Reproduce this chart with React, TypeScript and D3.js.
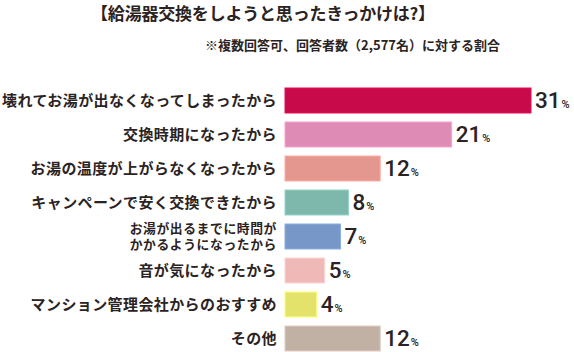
import React from "react";
import * as d3 from "d3";

const title = "【給湯器交換をしようと思ったきっかけは?】";
const subtitle = "※複数回答可、回答者数（2,577名）に対する割合";
const categories: string[][] = [
  ["壊れてお湯が出なくなってしまったから"],
  ["交換時期になったから"],
  ["お湯の温度が上がらなくなったから"],
  ["キャンペーンで安く交換できたから"],
  ["お湯が出るまでに時間が", "かかるようになったから"],
  ["音が気になったから"],
  ["マンション管理会社からのおすすめ"],
  ["その他"],
];
const values = [31, 21, 12, 8, 7, 5, 4, 12];
const colors = ["#C80A4B", "#DE8BB6", "#E4978F", "#7EB8AD", "#7797C8", "#EFB9B7", "#E3E36B", "#C1B1A5"];

const W = 574;
const H = 352;
const FONT = "'Noto Sans CJK JP', 'Noto Sans', sans-serif";
const TEXT = "#2b2323";

export default function App() {
  const x = d3.scaleLinear().domain([0, 31]).range([285, 531]);
  const keys = categories.map((_, i) => String(i));
  const y = d3.scaleBand<string>().domain(keys).range([88, 351]).paddingInner(0.265).paddingOuter(0);
  const bw = y.bandwidth();

  return (
    <svg width={W} height={H} style={{ position: "absolute", left: 0, top: 0 }} fontFamily={FONT}>
      <rect width={W} height={H} fill="#fff" />
      <text x={263} y={20} textAnchor="middle" fontSize={17} fontWeight={700} fill={TEXT} letterSpacing={-0.2}>
        {title}
      </text>
      <text x={500} y={50} textAnchor="end" fontSize={13} fontWeight={700} fill={TEXT}>
        {subtitle}
      </text>
      {keys.map((k, i) => {
        const y0 = y(k)!;
        const cy = y0 + bw / 2;
        const lines = categories[i];
        const c = d3.color(colors[i])!;
        const stroke = (c as any).brighter(0.4).formatHex();
        return (
          <g key={k}>
            <rect x={x(0)} y={y0} width={x(values[i]) - x(0)} height={bw} fill={colors[i]} stroke={stroke} strokeWidth={1} />
            {lines.length === 1 ? (
              <text x={277} y={cy + 5.5} textAnchor="end" fontSize={15} fontWeight={700} fill={TEXT} letterSpacing={0.4}>
                {lines[0]}
              </text>
            ) : (
              lines.map((l, j) => (
                <text key={j} x={277} y={cy - 8.5 + j * 16 + 4.5} textAnchor="end" fontSize={12.8} fontWeight={700} fill={TEXT} letterSpacing={0.6}>
                  {l}
                </text>
              ))
            )}
            <text x={x(values[i]) + 4} y={cy + 7.5} fontFamily="Roboto, sans-serif" fill={TEXT}>
              <tspan fontSize={22.5} fontWeight={500}>{values[i]}</tspan>
              <tspan fontSize={11} fontWeight={500} dx={1}>%</tspan>
            </text>
          </g>
        );
      })}
    </svg>
  );
}
